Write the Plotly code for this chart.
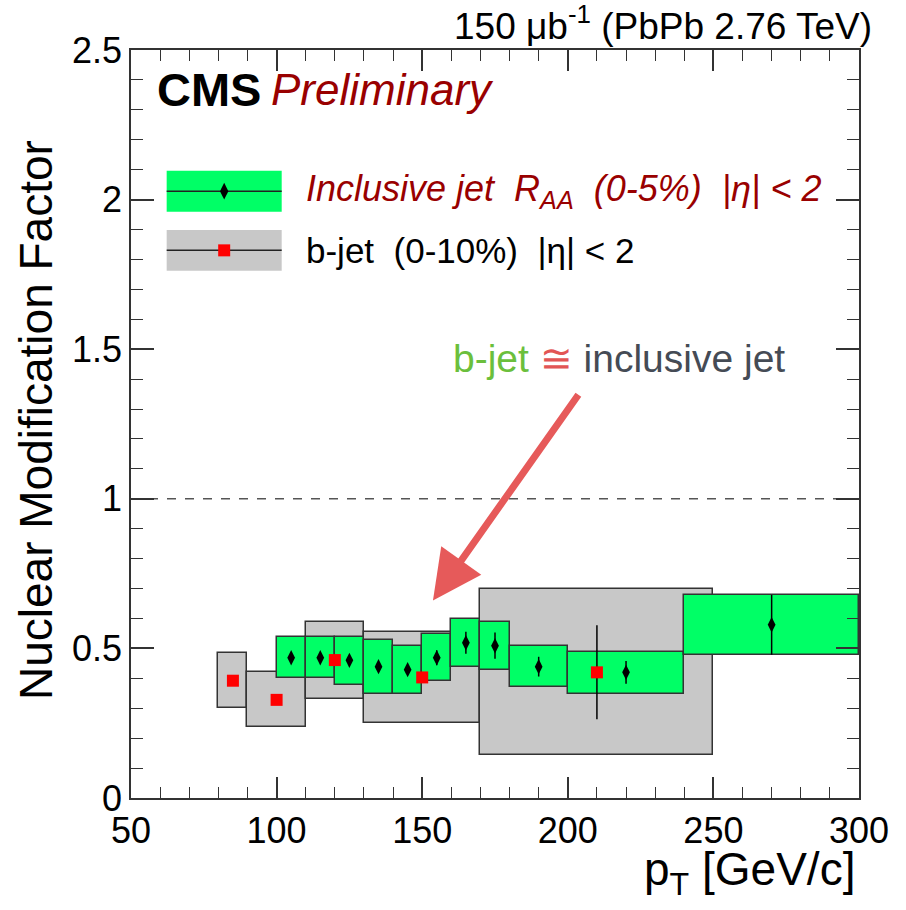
import plotly.graph_objects as go

# ---------------- data ----------------
incl_x = [105, 115, 125, 135, 145, 155, 165, 175, 190, 220, 270]
incl_xlo = [100, 110, 120, 130, 140, 150, 160, 170, 180, 200, 240]
incl_xhi = [110, 120, 130, 140, 150, 160, 170, 180, 200, 240, 300]
incl_y = [0.469, 0.469, 0.460, 0.439, 0.429, 0.469, 0.519, 0.509, 0.439, 0.420, 0.579]
incl_stat = [0.015, 0.015, 0.015, 0.015, 0.015, 0.025, 0.037, 0.044, 0.033, 0.038, 0.100]
incl_syslo = [0.400, 0.400, 0.379, 0.348, 0.348, 0.390, 0.439, 0.429, 0.370, 0.349, 0.479]
incl_syshi = [0.539, 0.539, 0.537, 0.528, 0.507, 0.548, 0.598, 0.589, 0.507, 0.487, 0.678]

bjet_x = [85, 100, 120, 150, 210]
bjet_xlo = [80, 90, 110, 130, 170]
bjet_xhi = [90, 110, 130, 170, 250]
bjet_y = [0.392, 0.328, 0.461, 0.403, 0.420]
bjet_stat = [0.015, 0.015, 0.015, 0.015, 0.157]
bjet_syslo = [0.301, 0.236, 0.331, 0.250, 0.145]
bjet_syshi = [0.483, 0.420, 0.587, 0.556, 0.700]

x_range = [50, 300]
y_range = [0, 2.5]
x_ticks = [50, 100, 150, 200, 250, 300]
y_ticks = [0, 0.5, 1, 1.5, 2, 2.5]
reference_level = 1.0

# ---------------- styles ----------------
FONT = "Liberation Sans, Arial, Helvetica, sans-serif"
GREEN = "#00ff66"
GRAY = "#c8c8c8"
EDGE = "#333333"
DARKRED = "#990000"
AXC = "#333333"


def centers(lo, hi):
    return [(a + b) / 2 for a, b in zip(lo, hi)]


def widths(lo, hi):
    return [b - a for a, b in zip(lo, hi)]


fig = go.Figure()

# b-jet systematic boxes
fig.add_trace(go.Bar(
    x=centers(bjet_xlo, bjet_xhi), width=widths(bjet_xlo, bjet_xhi),
    base=bjet_syslo, y=widths(bjet_syslo, bjet_syshi),
    marker=dict(color=GRAY, line=dict(color=EDGE, width=1.5)),
    hoverinfo="skip"))

# inclusive jet systematic boxes
fig.add_trace(go.Bar(
    x=centers(incl_xlo, incl_xhi), width=widths(incl_xlo, incl_xhi),
    base=incl_syslo, y=widths(incl_syslo, incl_syshi),
    marker=dict(color=GREEN, line=dict(color=EDGE, width=1.5)),
    hoverinfo="skip"))

# inclusive jet points
fig.add_trace(go.Scatter(
    x=incl_x, y=incl_y, mode="markers",
    marker=dict(symbol="diamond-tall", size=11, color="black"),
    error_y=dict(type="data", array=incl_stat, color="black", thickness=1.5, width=0)))

# b-jet points
fig.add_trace(go.Scatter(
    x=bjet_x, y=bjet_y, mode="markers",
    marker=dict(symbol="square", size=12, color="#ff0000"),
    error_y=dict(type="data", array=bjet_stat, color="black", thickness=1.5, width=0)))

# invisible trace to carry the mirrored tick axes (top / right)
fig.add_trace(go.Scatter(
    x=incl_x, y=incl_y, xaxis="x3", yaxis="y3", mode="markers",
    marker=dict(opacity=0), hoverinfo="skip"))

# ---------------- legend (drawn manually) ----------------
leg_x0, leg_x1 = 0.049, 0.207
leg_rows = [(0.7838, 0.8386, GREEN), (0.7049, 0.7594, GRAY)]
shapes = []
for (y0, y1, col) in leg_rows:
    shapes.append(dict(type="rect", xref="paper", yref="paper", x0=leg_x0, x1=leg_x1,
                       y0=y0, y1=y1, fillcolor=col, line=dict(width=0), layer="below"))
    ym = (y0 + y1) / 2
    shapes.append(dict(type="line", xref="paper", yref="paper", x0=leg_x0, x1=leg_x1,
                       y0=ym, y1=ym, line=dict(color="#222222", width=1.5), layer="below"))

fig.add_trace(go.Scatter(
    x=[(leg_x0 + leg_x1) / 2], y=[(leg_rows[0][0] + leg_rows[0][1]) / 2],
    xaxis="x2", yaxis="y2", mode="markers",
    marker=dict(symbol="diamond-tall", size=12, color="black")))
fig.add_trace(go.Scatter(
    x=[(leg_x0 + leg_x1) / 2], y=[(leg_rows[1][0] + leg_rows[1][1]) / 2],
    xaxis="x2", yaxis="y2", mode="markers",
    marker=dict(symbol="square", size=12, color="#ff0000")))

# dashed reference line
shapes.append(dict(type="line", xref="paper", yref="y", x0=0, x1=1,
                   y0=reference_level, y1=reference_level,
                   line=dict(color="#555555", width=1.5, dash="dash"), layer="below"))

NB = "\u00a0"
annotations = [
    # legend texts
    dict(xref="paper", yref="paper", x=0.2373, y=0.8115, xanchor="left", yanchor="middle",
         text=f"<i>Inclusive jet{NB}{NB}R<sub>AA</sub>{NB}{NB}(0-5%){NB}{NB}|η| &lt; 2</i>",
         font=dict(family=FONT, size=36, color=DARKRED), showarrow=False),
    dict(xref="paper", yref="paper", x=0.2373, y=0.7326, xanchor="left", yanchor="middle",
         text=f"b-jet{NB}{NB}(0-10%){NB}{NB}|η| &lt; 2",
         font=dict(family=FONT, size=35, color="black"), showarrow=False),
    # CMS label
    dict(xref="paper", yref="paper", x=0.0330, y=0.9472, xanchor="left", yanchor="middle",
         text="<b>CMS</b>", font=dict(family=FONT, size=47, color="black"), showarrow=False),
    dict(xref="paper", yref="paper", x=0.1895, y=0.9472, xanchor="left", yanchor="middle",
         text="<i>Preliminary</i>", font=dict(family=FONT, size=44, color=DARKRED), showarrow=False),
    # top-right label
    dict(xref="paper", yref="paper", x=1.0206, y=1.0348, xanchor="right", yanchor="middle",
         text="150 μb<sup>-1</sup> (PbPb 2.76 TeV)",
         font=dict(family=FONT, size=37, color="black"), showarrow=False),
    # axis titles
    dict(xref="paper", yref="paper", x=-0.1305, y=0.5053, xanchor="center", yanchor="middle",
         text="Nuclear Modification Factor", textangle=-90,
         font=dict(family=FONT, size=46, color="black"), showarrow=False),
    dict(xref="paper", yref="paper", x=0.997, y=-0.058, xanchor="right", yanchor="top",
         text="p<sub>T</sub> [GeV/c]",
         font=dict(family=FONT, size=46, color="black"), showarrow=False),
    # hand-written comment
    dict(xref="paper", yref="paper", x=0.6703, y=0.5882, xanchor="center", yanchor="middle",
         text=("<span style='color:#6bbf3c'>b-jet</span>" + NB
               + "<span style='color:#e25555'>≅</span>" + NB
               + "<span style='color:#454b55'>inclusive jet</span>"),
         font=dict(family=FONT, size=39, color="#454b55"), showarrow=False),
    # arrow
    dict(xref="x", yref="y", x=153.7, y=0.66, axref="x", ayref="y", ax=204, ay=1.353,
         text="", showarrow=True, arrowhead=2, arrowsize=1.4, arrowwidth=7,
         arrowcolor="#e65a5a", standoff=0),
]

axis_common = dict(
    showline=True, linecolor=AXC, linewidth=1.5, mirror=True,
    ticks="inside", tickcolor=AXC, tickwidth=1.5,
    showgrid=False, zeroline=False,
    tickfont=dict(family=FONT, size=36, color="black"),
)
x_minor = dict(dtick=10, tick0=50, ticks="inside", ticklen=11, tickcolor=AXC,
               tickwidth=1, showgrid=False)
y_minor = dict(dtick=0.1, tick0=0, ticks="inside", ticklen=12, tickcolor=AXC,
               tickwidth=1, showgrid=False)

fig.update_layout(
    width=906, height=910,
    margin=dict(l=131, r=47, t=50, b=112),
    paper_bgcolor="white", plot_bgcolor="white",
    showlegend=False, barmode="overlay", bargap=0,
    xaxis=dict(range=x_range, tickvals=x_ticks, ticklen=21, ticklabelstandoff=0,
               minor=x_minor, **axis_common),
    yaxis=dict(range=y_range, tickvals=y_ticks, ticklen=23, ticklabelstandoff=0,
               minor=y_minor, **axis_common),
    xaxis2=dict(range=[0, 1], overlaying="x", visible=False),
    yaxis2=dict(range=[0, 1], overlaying="y", visible=False),
    xaxis3=dict(range=x_range, overlaying="x", side="top", anchor="y3",
                tickvals=x_ticks, ticks="inside", ticklen=21, tickcolor=AXC, tickwidth=1.5,
                showticklabels=False, showline=False, showgrid=False, zeroline=False,
                minor=x_minor),
    yaxis3=dict(range=y_range, overlaying="y", side="right", anchor="x3",
                tickvals=y_ticks, ticks="inside", ticklen=23, tickcolor=AXC, tickwidth=1.5,
                showticklabels=False, showline=False, showgrid=False, zeroline=False,
                minor=y_minor),
    shapes=shapes, annotations=annotations,
)

fig.write_html("out.html")
